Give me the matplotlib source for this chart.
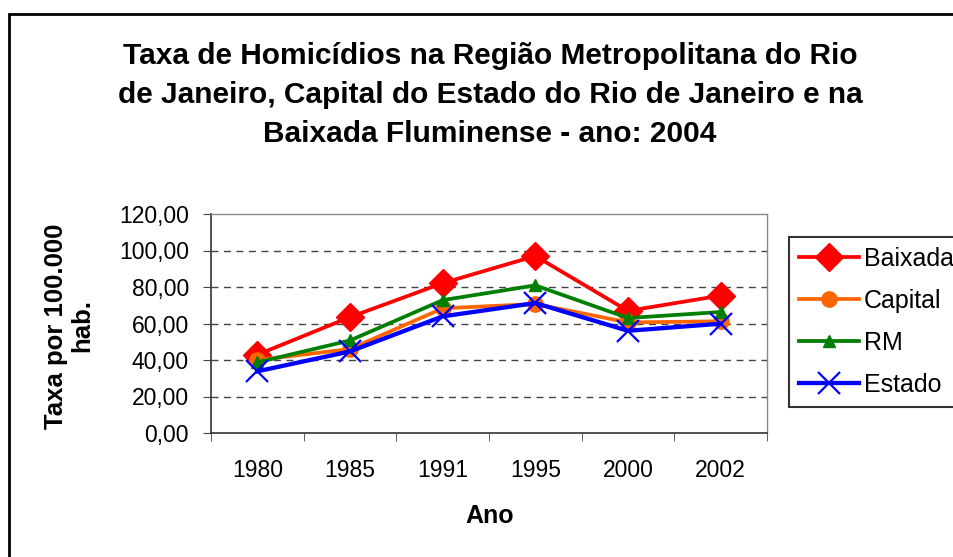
import matplotlib
matplotlib.use("Agg")
import matplotlib.pyplot as plt
from matplotlib.patches import Rectangle

plt.rcParams['font.family'] = ['Liberation Sans', 'DejaVu Sans']

years = ["1980", "1985", "1991", "1995", "2000", "2002"]
baixada = [42.9, 63.5, 82.1, 97.0, 66.9, 75.3]
capital = [40.0, 46.0, 68.3, 70.7, 60.6, 61.2]
rm = [38.7, 50.7, 72.8, 80.9, 63.0, 66.3]
estado = [33.8, 44.7, 63.9, 71.2, 56.0, 59.9]
yticks = [0, 20, 40, 60, 80, 100, 120]
ytick_labels = ["0,00", "20,00", "40,00", "60,00", "80,00", "100,00", "120,00"]

W, H = 954, 557
fig = plt.figure(figsize=(W/100, H/100), dpi=100)
ax = fig.add_axes([211/W, (H-433)/H, (767-211)/W, (433-214)/H])

x = list(range(len(years)))
ax.plot(x, baixada, color='#FF0000', lw=2.7, marker='D', ms=14, label='Baixada', zorder=3)
ax.plot(x, capital, color='#FF6600', lw=2.7, marker='o', ms=11, label='Capital', zorder=4)
ax.plot(x, rm, color='#007F00', lw=2.7, marker='^', ms=9, label='RM', zorder=5)
ax.plot(x, estado, color='#0000FF', lw=3.1, marker='x', ms=16, mew=1.6, label='Estado', zorder=6)

ax.set_xlim(-0.5, len(years) - 0.5)
ax.set_ylim(0, 120)
ax.set_yticks(yticks)
ax.set_yticklabels(ytick_labels, fontsize=16.5)
ax.set_xticks(x)
ax.set_xticklabels(years, fontsize=16.5)
ax.tick_params(axis='x', which='major', length=0, pad=19)
ax.set_xticks([i - 0.5 for i in range(len(years) + 1)], minor=True)
ax.tick_params(axis='x', which='minor', length=6, direction='out', color='#444444')
ax.tick_params(axis='y', length=6, direction='out', color='#444444', pad=10)

for v in yticks[1:-1]:
    ax.axhline(v, color='#444444', lw=1, ls=(0, (5, 4)), zorder=1)

for s in ['top', 'right']:
    ax.spines[s].set_color('#888888')
    ax.spines[s].set_linewidth(1)
for s in ['left', 'bottom']:
    ax.spines[s].set_color('#333333')
    ax.spines[s].set_linewidth(1.2)

fig.text(490/W, 1 - 516/H, 'Ano', ha='center', va='center', fontsize=18, fontweight='bold')
fig.text(69/W, 1 - 326/H, 'Taxa por 100.000\nhab.', ha='center', va='center', rotation=90,
         fontsize=18.5, fontweight='bold', linespacing=1.15, multialignment='center')

fig.text(490/W, 1 - 95/H,
         'Taxa de Homicídios na Região Metropolitana do Rio\n'
         'de Janeiro, Capital do Estado do Rio de Janeiro e na\n'
         'Baixada Fluminense - ano: 2004',
         ha='center', va='center', fontsize=21.5, fontweight='bold', linespacing=1.5)

leg = fig.legend(loc='upper left', bbox_to_anchor=(789/W, 1 - 237/H), fontsize=18,
                 frameon=True, fancybox=False, edgecolor='black', handlelength=2.4,
                 handletextpad=0.2, labelspacing=0.72, borderpad=0.4, borderaxespad=0)
leg.get_frame().set_linewidth(1.5)

fig.patches.append(Rectangle((9/W, -0.2), 1.5, (H-14)/H + 0.2, transform=fig.transFigure,
                             fill=False, edgecolor='black', lw=2, clip_on=False))

fig.savefig('out.png', dpi=100)
